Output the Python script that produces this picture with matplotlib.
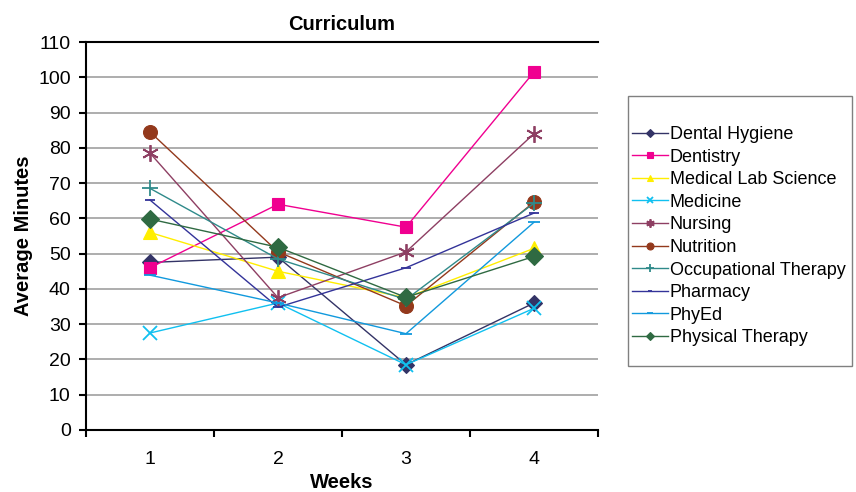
import matplotlib.pyplot as plt
from matplotlib.patches import Rectangle
import numpy as np

plt.rcParams['font.family'] = ['Liberation Sans', 'DejaVu Sans']

weeks = [1, 2, 3, 4]
dental_hygiene = [47.5, 49, 18.5, 36]
dentistry = [46, 64, 57.5, 101.5]
medical_lab = [56, 45, 37.5, 51.5]
medicine = [27.5, 36, 18.5, 34.5]
nursing = [78.5, 37.5, 50.5, 84]
nutrition = [84.5, 50.5, 35.2, 64.6]
occupational = [68.5, 48.5, 37, 64.3]
pharmacy = [65.2, 34.8, 46, 61.5]
phyed = [43.9, 36, 27.3, 58.9]
physical = [59.8, 51.8, 37.6, 49.2]

series = [
    ('Dental Hygiene', dental_hygiene, '#333366', 'D', 8),
    ('Dentistry', dentistry, '#F00090', 's', 9),
    ('Medical Lab Science', medical_lab, '#FFEE00', '^', 10),
    ('Medicine', medicine, '#10C0F0', 'x', 10),
    ('Nursing', nursing, '#8E3F63', (6, 2, 0), 12),
    ('Nutrition', nutrition, '#93391C', 'o', 10),
    ('Occupational Therapy', occupational, '#2F8A8A', '+', 12),
    ('Pharmacy', pharmacy, '#333399', '_', 7),
    ('PhyEd', phyed, '#1199DD', '_', 9),
    ('Physical Therapy', physical, '#2F6A42', 'D', 9),
]

W, H = 856, 492
fig = plt.figure(figsize=(W / 100, H / 100), dpi=100)
ax = fig.add_axes([86 / W, 1 - 430 / H, 512 / W, 388 / H])

for name, vals, col, mk, ms in series:
    thin = mk in ('x', '+', '_') or isinstance(mk, tuple)
    ax.plot(weeks, vals, color=col, lw=1.0, marker=mk, markersize=ms,
            markeredgewidth=1.3 if thin else 0.8,
            markerfacecolor=col, markeredgecolor=col, label=name)

ax.set_xlim(0.5, 4.5)
ax.set_ylim(0, 110)
ax.set_yticks(np.arange(0, 111, 10))
ax.set_xticks(weeks)
ax.set_xticks([0.5, 1.5, 2.5, 3.5, 4.5], minor=True)
ax.tick_params(axis='x', which='major', length=0, labelsize=14, pad=15)
ax.tick_params(axis='x', which='minor', length=5, width=1.5, direction='out')
ax.tick_params(axis='y', length=5, width=1.5, direction='out', labelsize=14, pad=6)
ax.yaxis.grid(True, color='#a0a0a0', lw=1.2)
ax.set_axisbelow(True)
ax.spines['right'].set_visible(False)
for s in ('left', 'bottom', 'top'):
    ax.spines[s].set_linewidth(1.5)

ax.set_title('Curriculum', fontsize=14.5, fontweight='bold', pad=9)
ax.set_xlabel('Weeks', fontsize=14.5, fontweight='bold', labelpad=4)
ax.set_ylabel('Average Minutes', fontsize=14.5, fontweight='bold', labelpad=4)

# legend box (drawn separately so the empty space above/below matches)
fig.patches.append(Rectangle((628 / W, 1 - 366 / H), 224 / W, 270 / H,
                             transform=fig.transFigure, fill=False,
                             edgecolor='#808080', lw=1.0))
leg = fig.legend(loc='upper left', bbox_to_anchor=(632 / W, 1 - 126 / H),
                 fontsize=13, frameon=False, markerscale=0.5,
                 handlelength=2.0, handletextpad=0.1, labelspacing=0.31,
                 borderpad=0, borderaxespad=0)

fig.savefig('out.png', dpi=100)
